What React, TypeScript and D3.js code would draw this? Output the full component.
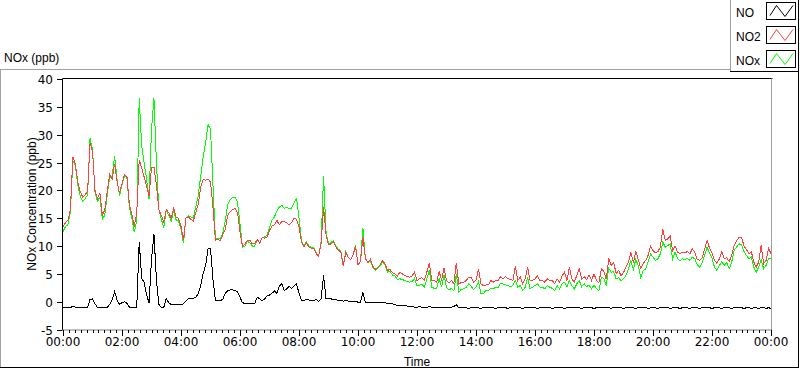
import React from "react";
import * as d3 from "d3";

// Sampling interval of the series (minutes)
const SAMPLE_MINUTES = 5;

const NO_VALUES: number[] = [
  -1.0, -1.1, -1.0, -1.1, -0.8, -1.0, -1.1, -1.0, -1.0, -1.1, -1.0,
  0.4, 0.5, -0.4, -1.0, -1.0, -1.0, -1.0, -1.0, -0.5, 0.3,
  1.8, 0.3, -0.5, -0.2, 0.0, -0.3, -1.0, -1.0, -1.0, -1.0,
  10.8, 4.2, 3.5, 1.2, -0.2, 7.5, 12.2, 4.0, -0.5, -1.0,
  -1.0, 0.6, -0.2, -0.5, -0.5, -0.5, -0.5, -0.5, -0.4, 0.1,
  0.5, 0.5, 0.6, 0.8, 1.4, 2.8, 5.0, 6.5, 9.5, 9.6,
  4.0, 0.2, 0.2, 0.2, 0.4, 1.5, 2.0, 2.1, 2.1, 2.0, 1.8, 0.8,
  -0.2, -0.3, -0.3, -0.4, -0.4, -0.3, 0.8, 0.5,
  0.2, 0.5, 1.0, 1.2, 1.5, 1.9, 1.5, 2.8, 3.2, 2.0,
  2.3, 2.8, 2.4, 2.8, 3.2, 1.5, 0.3, 0.2, 0.4, 0.3,
  0.2, 0.2, 0.4, 0.0, 0.5, 4.7, 0.5, 0.5, 0.5, 0.4,
  0.4, 0.2, 0.2, 0.1, 0.2, 0.1, 0.0, 0.0, 0.1, -0.1,
  -0.1, 1.6, -0.1, -0.1, -0.1, -0.1, -0.1, -0.2, -0.1, -0.1,
  -0.2, -0.3, -0.3, -0.4, -0.5, -0.7,
  -0.7, -0.7, -0.7, -0.8, -0.9, -0.9, -1.0, -1.0, -0.9, -1.0, -1.0, -1.0, -0.9, -1.0,
  -1.0, -1.1, -1.0, -1.0, -1.0, -1.0, -1.0, -1.0, -0.9, -0.5,
  -1.1, -1.1, -1.0, -1.1, -1.2, -1.1, -1.0, -1.1, -1.1, -1.2,
  -1.1, -1.1, -1.0, -1.1, -1.1, -1.2, -1.1, -1.0, -1.1, -1.1,
  -1.2, -1.1, -1.1, -1.0, -1.1, -1.1, -1.2, -1.1, -1.0, -1.1,
  -1.1, -1.1, -1.2, -1.1, -1.0, -1.1, -1.1, -1.1, -1.2, -1.1,
  -1.0, -1.1, -1.1, -1.2, -1.1, -1.1, -1.0, -1.1, -1.1, -1.1,
  -1.2, -1.1, -1.0, -1.1, -1.1, -1.2, -1.1, -1.1, -1.0, -1.1,
  -1.1, -1.1, -1.2, -1.0, -1.1, -1.1, -1.1, -1.2, -1.1, -1.0,
  -1.1, -1.1, -1.2, -1.1, -1.1, -1.0, -1.1, -1.2, -1.1, -1.1,
  -1.1, -1.2, -1.1, -1.0, -1.1, -1.1, -1.2, -1.1, -1.1, -1.1,
  -1.2, -1.1, -1.0, -1.1, -1.2, -1.1, -1.1, -1.1, -1.2, -1.1,
  -1.1, -1.0, -1.1, -1.2, -1.1, -1.1, -1.1, -1.2, -1.1, -1.0,
  -1.1, -1.2, -1.1, -1.1, -1.0, -1.1, -1.2, -1.1, -1.1, -1.2,
  -1.1, -1.1, -1.2, -1.1, -1.1, -1.2, -1.1, -1.2,
];

const NO2_VALUES: number[] = [
  13.4, 14.2, 14.6, 16.5, 26.0, 24.8, 21.5, 19.8, 18.8, 19.2, 19.8,
  28.5, 27.0, 20.0, 18.5, 19.5, 15.5, 16.5, 19.8, 22.8, 22.0,
  24.8, 21.5, 19.5, 21.2, 22.8, 22.5, 17.5, 15.8, 13.5, 16.0,
  25.5, 24.0, 22.4, 20.8, 19.0, 24.0, 24.2, 21.0, 16.5, 15.5,
  14.2, 16.5, 16.0, 15.0, 16.8, 15.2, 15.0, 13.5, 11.0, 15.0,
  15.2, 14.8, 14.5, 16.0, 17.5, 20.5, 22.0, 21.8, 22.0, 21.5,
  17.0, 11.0, 11.2, 11.0, 12.0, 13.0, 15.5, 16.2, 16.5, 16.8, 16.0, 12.5,
  10.0, 10.3, 11.0, 11.0, 10.4, 10.4, 11.2, 10.5,
  11.5, 11.4, 11.6, 12.8, 13.6, 13.8, 14.6, 13.8, 14.4, 14.4,
  14.2, 13.8, 14.2, 15.0, 14.8, 13.5, 10.8, 9.8, 10.6, 9.8,
  9.6, 9.6, 8.6, 8.2, 10.5, 17.0, 12.0, 10.2, 10.4, 10.8,
  9.8, 9.2, 9.0, 6.4, 8.8, 8.0, 7.6, 8.4, 10.0, 6.6,
  7.2, 11.6, 7.8, 7.0, 7.6, 6.4, 5.8, 6.2, 6.6, 7.4,
  6.8, 5.6, 5.8, 5.2, 5.0, 4.6,
  5.3, 5.0, 4.7, 4.5, 4.4, 4.6, 5.3, 3.8, 4.1, 4.3, 3.8, 5.3, 7.0, 3.8,
  3.8, 3.5, 5.5, 3.8, 6.0, 3.8, 3.4, 3.8, 3.3, 7.0,
  3.1, 3.5, 3.5, 3.8, 4.4, 4.4, 3.5, 3.8, 5.9, 3.2,
  2.9, 3.0, 3.0, 3.8, 3.5, 3.8, 3.8, 4.5, 4.1, 4.5,
  4.1, 4.0, 3.8, 6.4, 3.8, 4.4, 3.2, 4.1, 6.2, 3.8,
  3.8, 4.1, 4.7, 3.8, 3.8, 3.5, 4.1, 3.8, 3.8, 3.2,
  4.1, 3.5, 4.6, 5.3, 3.8, 6.2, 4.1, 3.5, 4.7, 5.9,
  4.0, 4.5, 4.0, 4.8, 3.8, 5.0, 3.8, 3.4, 5.9, 5.4,
  4.0, 7.8, 6.5, 7.1, 5.0, 5.6, 4.7, 5.2, 6.2, 7.1,
  8.9, 7.0, 9.0, 7.6, 6.0, 6.8, 7.4, 8.3, 10.0, 9.2,
  8.8, 9.0, 9.8, 13.0, 11.0, 11.3, 11.8, 9.2, 10.0, 8.9,
  8.6, 8.9, 8.8, 9.0, 8.6, 9.5, 8.9, 7.6, 7.4, 7.9,
  9.4, 11.0, 9.6, 8.8, 7.4, 6.9, 7.7, 9.0, 7.7, 7.9,
  7.2, 8.3, 10.1, 10.9, 11.6, 11.6, 10.0, 9.4, 8.6, 9.0,
  7.1, 6.2, 7.1, 10.1, 6.8, 7.4, 9.6, 8.6,
];

const NOX_VALUES: number[] = [
  12.6, 13.5, 13.8, 16.0, 25.3, 24.5, 21.0, 19.0, 18.0, 18.5, 19.2,
  29.3, 27.5, 19.8, 18.0, 18.8, 14.8, 15.5, 19.2, 22.3, 22.5,
  26.2, 22.0, 19.0, 21.0, 22.5, 22.3, 17.0, 15.0, 12.5, 14.5,
  36.5, 28.0, 25.0, 22.0, 18.5, 31.0, 36.5, 25.0, 16.5, 14.8,
  13.3, 16.5, 15.5, 14.5, 16.3, 14.7, 14.5, 13.0, 10.5, 15.0,
  15.5, 15.2, 15.0, 17.0, 19.0, 22.5, 26.0, 28.5, 31.8, 31.0,
  21.0, 11.2, 11.4, 11.2, 12.4, 14.5, 17.5, 18.3, 18.8, 18.8, 17.8, 14.0,
  9.8, 10.0, 10.8, 10.6, 10.0, 10.0, 11.0, 10.6,
  11.5, 11.6, 12.0, 13.4, 14.6, 15.2, 16.3, 17.0, 17.3, 16.8,
  16.9, 16.7, 16.8, 17.8, 18.5, 15.0, 11.0, 10.0, 10.8, 10.0,
  9.8, 9.8, 8.8, 8.2, 10.8, 22.5, 12.5, 10.4, 10.6, 11.0,
  10.0, 9.4, 9.2, 6.4, 9.0, 8.0, 7.6, 8.4, 10.2, 6.6,
  7.2, 13.2, 7.8, 7.0, 7.4, 6.2, 5.6, 6.0, 6.4, 7.2,
  6.6, 5.3, 5.5, 4.8, 4.6, 4.0,
  4.1, 4.0, 3.8, 3.6, 3.5, 3.6, 4.2, 2.9, 2.9, 3.2, 2.6, 4.1, 5.6, 2.6,
  2.4, 2.3, 4.2, 2.6, 4.8, 2.6, 2.1, 2.4, 2.0, 5.0,
  1.7, 2.2, 2.3, 2.6, 3.2, 2.8, 2.2, 2.6, 3.6, 1.5,
  1.4, 2.0, 2.0, 2.4, 2.3, 2.6, 2.6, 3.3, 3.2, 3.0,
  2.9, 2.7, 2.9, 3.8, 2.6, 2.9, 2.0, 2.6, 4.4, 2.3,
  2.6, 2.9, 3.2, 2.6, 2.6, 2.3, 2.9, 2.6, 2.4, 2.0,
  2.9, 2.3, 3.2, 3.5, 2.6, 3.8, 2.9, 2.3, 3.2, 3.8,
  2.7, 3.2, 2.7, 3.0, 2.3, 3.0, 2.3, 2.0, 4.4, 4.2,
  2.9, 6.0, 5.3, 5.4, 4.1, 4.3, 3.8, 4.1, 4.7, 5.9,
  7.4, 5.8, 7.6, 6.5, 4.3, 5.6, 5.9, 7.1, 8.6, 8.0,
  7.4, 7.7, 8.6, 10.7, 9.8, 10.1, 10.4, 7.7, 8.9, 7.7,
  7.4, 7.7, 7.6, 7.8, 7.4, 8.0, 7.7, 6.6, 6.2, 7.0,
  8.3, 9.8, 8.7, 7.9, 6.2, 5.6, 6.5, 7.2, 6.5, 7.0,
  5.9, 7.1, 9.2, 9.8, 10.4, 10.2, 9.0, 8.3, 7.7, 8.0,
  6.2, 5.3, 6.2, 7.6, 5.9, 6.5, 7.7, 7.7,
];

const SERIES_NAMES = ["NO", "NO2", "NOx"];
const SERIES_COLORS = ["#000000", "#ff4040", "#00ff00"];
const Y_TICKS = [-5, 0, 5, 10, 15, 20, 25, 30, 35, 40];
const X_MAJOR_TICKS_MIN = [0, 120, 240, 360, 480, 600, 720, 840, 960, 1080, 1200, 1320, 1440];
const X_TICK_LABELS = ["00:00", "02:00", "04:00", "06:00", "08:00", "10:00", "12:00", "14:00", "16:00", "18:00", "20:00", "22:00", "00:00"];
const X_MINOR_STEP = 12;

const W = 800;
const H = 369;
const PL = 62.5, PR = 771.5, PT = 78.5, PB = 329.5;
const TEXT_FONT = "'Liberation Sans', Arial, sans-serif";
const TICK_FONT = "'DejaVu Sans', Verdana, sans-serif";

export default function App() {
  const x = d3.scaleLinear().domain([0, 1440]).range([63, 771]);
  const y = d3.scaleLinear().domain([-5, 40]).range([329.5, 79]);

  const lineGen = d3
    .line<number>()
    .x((_, i) => x(i * SAMPLE_MINUTES))
    .y((d) => y(d));

  const minorTicks = d3.range(0, 1440 + 1, X_MINOR_STEP).filter((m) => m % 120 !== 0);

  const seriesData = [NO_VALUES, NOX_VALUES, NO2_VALUES];
  const seriesColorsDraw = [SERIES_COLORS[0], SERIES_COLORS[2], SERIES_COLORS[1]];

  const legendRows = SERIES_NAMES.map((name, i) => ({ name, color: SERIES_COLORS[i], top: 2.5 + i * 24 }));

  return (
    <svg
      width={W}
      height={H}
      style={{ position: "absolute", left: 0, top: 0, background: "#fff" }}
    >
      <rect x={0} y={0} width={W} height={H} fill="#fff" />

      {/* outer panel frame */}
      <line x1={0} y1={69.5} x2={730} y2={69.5} stroke="#a0a0a0" />
      <line x1={0.5} y1={69.5} x2={0.5} y2={368} stroke="#a0a0a0" />
      <line x1={0} y1={367.5} x2={799} y2={367.5} stroke="#000" />
      <line x1={798.5} y1={71} x2={798.5} y2={368} stroke="#000" />

      {/* legend box */}
      <line x1={730.5} y1={0} x2={730.5} y2={72} stroke="#a0a0a0" />
      <line x1={730} y1={71.5} x2={799} y2={71.5} stroke="#000" />
      <line x1={798.5} y1={0} x2={798.5} y2={72} stroke="#000" />
      {legendRows.map((r) => (
        <g key={r.name}>
          <text x={736} y={r.top + 14.5} fontFamily={TEXT_FONT} fontSize={12} fill="#000">
            {r.name}
          </text>
          <rect x={766.5} y={r.top} width={29} height={17} fill="#fff" stroke="#000" />
          <polyline
            points={`770,${r.top + 13} 776.5,${r.top + 3} 785,${r.top + 14} 793,${r.top + 3}`}
            fill="none"
            stroke={r.color}
            strokeWidth={1}
          />
        </g>
      ))}

      {/* top-left caption */}
      <text x={4} y={62} fontFamily={TEXT_FONT} fontSize={12} fill="#000">
        NOx (ppb)
      </text>

      {/* plot data */}
      <g>
        {seriesData.map((vals, i) => (
          <path
            key={i}
            d={lineGen(vals) || ""}
            fill="none"
            stroke={seriesColorsDraw[i]}
            strokeWidth={1}
            shapeRendering="crispEdges"
          />
        ))}
      </g>

      {/* plot frame */}
      <line x1={PL} y1={PT} x2={PR + 1} y2={PT} stroke="#000" />
      <line x1={PL} y1={PT} x2={PL} y2={PB + 1} stroke="#000" />
      <line x1={PR} y1={PT} x2={PR} y2={PB + 1} stroke="#a0a0a0" />
      <line x1={PL} y1={PB + 0.5} x2={PR + 0.5} y2={PB + 0.5} stroke="#808080" />

      {/* y axis ticks */}
      {Y_TICKS.map((t) => (
        <g key={t}>
          <line x1={57} y1={Math.round(y(t)) + 0.5} x2={62} y2={Math.round(y(t)) + 0.5} stroke="#000" />
          <text
            x={53}
            y={Math.round(y(t)) + 4.5}
            textAnchor="end"
            fontFamily={TICK_FONT}
            fontSize={12}
            fill="#000"
          >
            {t}
          </text>
        </g>
      ))}

      {/* x axis ticks */}
      {minorTicks.map((m) => (
        <line key={"m" + m} x1={Math.round(x(m)) + 0.5} y1={330} x2={Math.round(x(m)) + 0.5} y2={333} stroke="#000" />
      ))}
      {X_MAJOR_TICKS_MIN.map((m, i) => (
        <g key={"M" + m}>
          <line x1={Math.round(x(m)) + 0.5} y1={330} x2={Math.round(x(m)) + 0.5} y2={336} stroke="#000" />
          <text
            x={x(m)}
            y={346}
            textAnchor="middle"
            fontFamily={TICK_FONT}
            fontSize={12}
            fill="#000"
          >
            {X_TICK_LABELS[i]}
          </text>
        </g>
      ))}

      {/* axis titles */}
      <text x={417} y={365.5} textAnchor="middle" fontFamily={TEXT_FONT} fontSize={12} fill="#000">
        Time
      </text>
      <text
        transform={`translate(36,204) rotate(-90)`}
        textAnchor="middle"
        fontFamily={TEXT_FONT}
        fontSize={12}
        fill="#000"
      >
        NOx Concentration (ppb)
      </text>
    </svg>
  );
}
